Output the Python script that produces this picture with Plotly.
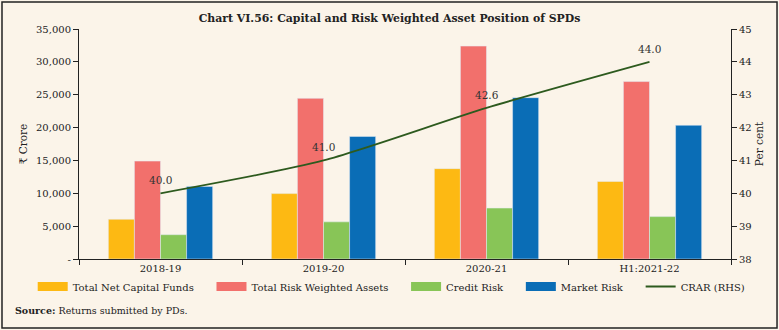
import plotly.graph_objects as go

categories = ["2018-19", "2019-20", "2020-21", "H1:2021-22"]
net_capital = [6050, 9950, 13750, 11800]
risk_weighted = [14900, 24450, 32400, 27000]
credit_risk = [3700, 5650, 7750, 6450]
market_risk = [11050, 18650, 24550, 20350]
crar = [40.0, 41.0, 42.6, 44.0]
left_ticks = [0, 5000, 10000, 15000, 20000, 25000, 30000, 35000]
left_ticktext = ["-", "5,000", "10,000", "15,000", "20,000", "25,000", "30,000", "35,000"]
right_ticks = [38, 39, 40, 41, 42, 43, 44, 45]

bar_names = ["Total Net Capital Funds", "Total Risk Weighted Assets", "Credit Risk", "Market Risk"]
bar_colors = ["#FDB913", "#F2706C", "#88C557", "#0A6DB6"]
bar_values = [net_capital, risk_weighted, credit_risk, market_risk]

FONT = "DejaVu Serif"
BG = "#FBF4E9"
TXT = "#222222"
LINE = "#2D5A1E"
PAD = "\u00a0" * 4

fig = go.Figure()
for name, col, vals in zip(bar_names, bar_colors, bar_values):
    fig.add_bar(x=categories, y=vals, name=name, marker_color=col, showlegend=False)
fig.add_scatter(x=categories, y=crar, name="CRAR (RHS)", yaxis="y2", mode="lines",
                line=dict(color=LINE, width=1.8), line_shape="spline",
                line_smoothing=0.7, showlegend=False)

# legend entries (wide rectangle swatches like the original)
for name, col in zip(bar_names, bar_colors):
    fig.add_scatter(x=[None], y=[None], mode="lines", name=name + PAD,
                    line=dict(color=col, width=9))
fig.add_scatter(x=[None], y=[None], mode="lines", name="CRAR (RHS)", yaxis="y2",
                line=dict(color=LINE, width=2))

for c, v in zip(categories, crar):
    fig.add_annotation(x=c, y=v, xref="x", yref="y2", text=f"{v:.1f}", showarrow=False,
                       yshift=13, font=dict(family=FONT, size=10.5, color="#333333"))

fig.update_layout(
    width=779, height=330,
    margin=dict(l=79, r=48, t=29, b=71, autoexpand=False),
    paper_bgcolor=BG, plot_bgcolor=BG,
    font=dict(family=FONT, size=10, color=TXT),
    barmode="group", bargap=0.36, bargroupgap=0,
    title=dict(text="<b>Chart VI.56: Capital and Risk Weighted Asset Position of SPDs</b>",
               x=0.5, xanchor="center", y=0.945, yanchor="middle",
               font=dict(family=FONT, size=10.9, color=TXT)),
    xaxis=dict(showline=True, linecolor="#222", linewidth=1, ticks="outside",
               tickson="boundaries", ticklen=5, tickcolor="#222", showgrid=False,
               tickfont=dict(size=10)),
    yaxis=dict(range=[0, 35000], tickvals=left_ticks, ticktext=left_ticktext,
               showline=True, linecolor="#222", linewidth=1, ticks="outside",
               ticklen=5, tickcolor="#222", showgrid=False, zeroline=False,
               tickfont=dict(size=10),
               title=dict(text="₹ Crore", font=dict(size=10.5), standoff=6)),
    yaxis2=dict(range=[38, 45], tickvals=right_ticks, overlaying="y", side="right",
                showline=True, linecolor="#222", linewidth=1, ticks="outside",
                ticklen=5, tickcolor="#222", showgrid=False, zeroline=False,
                tickfont=dict(size=10),
                title=dict(text="Per cent", font=dict(size=10.5), standoff=4)),
    legend=dict(orientation="h", x=-0.071, xanchor="left", y=-0.12, yanchor="middle",
                font=dict(size=10), bgcolor="rgba(0,0,0,0)", itemwidth=30,
                traceorder="normal", tracegroupgap=0),
    showlegend=True,
)

fig.add_annotation(text="<b>Source:</b> Returns submitted by PDs.", xref="paper", yref="paper",
                   x=-0.101, y=-0.226, xanchor="left", yanchor="middle",
                   showarrow=False, font=dict(family=FONT, size=9.5, color=TXT))
fig.add_shape(type="rect", xref="paper", yref="paper", x0=-0.1181, x1=1.0706, y0=-0.3, y1=1.117,
              line=dict(color="#222", width=1.5), fillcolor="rgba(0,0,0,0)", layer="above")

fig.write_html("out.html")
